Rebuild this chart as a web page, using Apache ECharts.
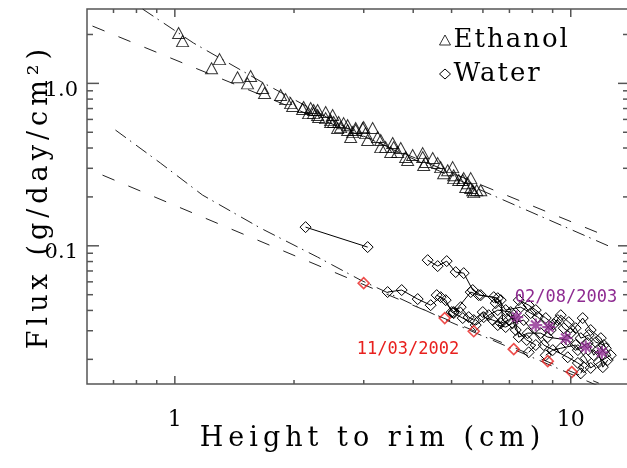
<!DOCTYPE html>
<html>
<head>
<meta charset="utf-8">
<script src="https://cdn.jsdelivr.net/npm/echarts@6/dist/echarts.min.js"></script>
<style>html,body{margin:0;padding:0;background:#fff;}#c{width:627px;height:468px;}</style>
</head>
<body>
<div id="c"></div>
<script>
// ---- axis ranges and ticks ----
const xRange = [0.6, 13.95];
const yRange = [0.0141, 2.87];
const xMajorTicks = [1, 10];
const xMinorTicks = [0.7, 0.8, 0.9, 2, 3, 4, 5, 6, 7, 8, 9];
const yMajorTicks = [0.1, 1];
const yMinorTicks = [0.02, 0.03, 0.04, 0.05, 0.06, 0.07, 0.08, 0.09, 0.2, 0.3, 0.4, 0.5, 0.6, 0.7, 0.8, 0.9, 2];

// ---- Ethanol measurements [height cm, flux] ----
const ethanol = [
 [1.022,2.04],[1.046,1.82],[1.238,1.24],[1.297,1.41],[1.440,1.09],[1.526,1.00],[1.554,1.11],
 [1.666,0.936],[1.685,0.872],[1.850,0.847],[1.905,0.800],[1.961,0.756],[1.984,0.725],
 [2.102,0.695],[2.115,0.715],[2.177,0.656],[2.203,0.705],[2.241,0.685],[2.241,0.656],
 [2.294,0.638],[2.294,0.685],[2.308,0.620],[2.404,0.666],[2.404,0.611],[2.475,0.594],
 [2.475,0.578],[2.503,0.638],[2.518,0.578],[2.577,0.531],[2.592,0.578],[2.623,0.538],
 [2.669,0.569],[2.732,0.553],[2.732,0.516],[2.780,0.467],[2.813,0.501],[2.862,0.531],
 [2.862,0.516],[2.981,0.531],[2.999,0.538],[3.033,0.494],[3.069,0.448],[3.159,0.531],
 [3.253,0.467],[3.311,0.448],[3.311,0.405],[3.408,0.405],[3.509,0.378],[3.550,0.429],
 [3.571,0.405],[3.655,0.378],[3.720,0.400],[3.828,0.352],[3.873,0.337],[3.987,0.362],
 [4.227,0.372],[4.227,0.352],[4.251,0.314],[4.301,0.328],[4.480,0.347],[4.612,0.323],
 [4.693,0.305],[4.775,0.280],[4.888,0.292],[5.032,0.305],[5.061,0.272],[5.061,0.261],
 [5.212,0.254],[5.335,0.254],[5.366,0.261],[5.429,0.230],[5.492,0.243],[5.589,0.261],
 [5.589,0.227],[5.654,0.220],[5.688,0.214],[5.788,0.220],[5.925,0.220]
];

// ---- Water measurement runs [height cm, flux] ----
const waterRun1 = [[2.139,0.1303],[3.069,0.0982]];
const waterRun2 = [
 [4.351,0.0816],[4.612,0.0750],[4.860,0.0805],[5.121,0.0689],[5.366,0.0679],[5.654,0.0534],
 [5.925,0.0497],[6.540,0.0476],[6.849,0.0402],[7.475,0.0419],[7.924,0.0385],[8.253,0.0364],
 [8.903,0.0303],[9.272,0.0349],[9.601,0.0311],[10.0,0.0290],[10.72,0.0359],[11.23,0.0303],
 [11.91,0.0270],[12.26,0.0234]
];
const waterRun3 = [
 [3.447,0.0519],[3.741,0.0534],[4.106,0.0470],[4.428,0.0431],[4.693,0.0483],[5.061,0.0391],
 [5.273,0.0419],[5.524,0.0364],[5.688,0.0349],[5.994,0.0391],[6.028,0.0364],[6.352,0.0349],
 [6.655,0.0334],[6.970,0.0349],[7.178,0.0374],[7.389,0.0274],[7.786,0.0290],[8.398,0.0290],
 [8.748,0.0274],[9.827,0.0263],[10.42,0.0228],[11.04,0.0252],[11.43,0.0212],[11.70,0.0228],
 [12.05,0.0179],[12.40,0.0198]
];
const waterRun4 = [
 [5.061,0.0385],[5.589,0.0519],[5.855,0.0497],[6.389,0.0483],[6.464,0.0444],[6.655,0.0463],
 [6.733,0.0349],[6.540,0.0325],[6.849,0.0316],[7.134,0.0334],[7.607,0.0349],[8.547,0.0245],
 [9.827,0.0206],[10.42,0.0190],[10.79,0.0179],[10.60,0.0164]
];
const waterRun5 = [
 [7.389,0.0463],[7.830,0.0431],[8.158,0.0402],[8.647,0.0359],[9.057,0.0329],[9.435,0.0374],
 [9.884,0.0339],[10.29,0.0311],[10.60,0.0270],[11.10,0.0282],[11.57,0.0255],[12.12,0.0245],
 [12.62,0.0212],[11.77,0.0192],[11.23,0.0177],[10.91,0.0203],[10.29,0.0245],[9.435,0.0234],
 [9.005,0.0228],[8.647,0.0212]
];
const waterRun6 = [
 [4.585,0.0497],[4.832,0.0463],[5.004,0.0391],[5.335,0.0359],[5.754,0.0325],[6.206,0.0374],
 [6.540,0.0402],[7.052,0.0391],[7.262,0.0303],[7.741,0.0263],[8.158,0.0245],[7.830,0.0221]
];
const water20021103 = [[2.999,0.0589],[4.805,0.0359],[5.688,0.0298],[7.178,0.0231],[8.748,0.0195],[10.06,0.0167]];
const water20030802 = [[7.302,0.0364],[8.158,0.0325],[8.799,0.0316],[9.714,0.0270],[10.91,0.0238],[11.98,0.0221]];

// ---- fitted curves ----
const ethanolFitDashed = [[0.6195,2.253],[12.48,0.1131]];
const ethanolFitDashDot = [[0.829,2.868],[1.115,1.771],[1.676,1.004],[2.78,0.516],[5.925,0.2203],[12.48,0.0996]];
const waterFitDashed = [[0.6566,0.2724],[11.77,0.01427]];
const waterFitDashDot = [[0.708,0.516],[0.920,0.323],[1.175,0.2052],[1.646,0.1285],[2.294,0.0852],[2.946,0.0615],[4.973,0.0339],[11.77,0.01368]];

const dateLabels = ['02/08/2003', '11/03/2002'];
const legendNames = ['Ethanol', 'Water'];

// Wider letter spacing for the large serif titles (the original uses a widely spaced vector font)
(function () {
  const proto = CanvasRenderingContext2D.prototype;
  if (!('letterSpacing' in proto)) return;
  const orig = proto.fillText;
  proto.fillText = function (t, x, y, mw) {
    const f = this.font || '';
    const m = /(\d+(?:\.\d+)?)px/.exec(f);
    const sz = m ? parseFloat(m[1]) : 0;
    const prev = this.letterSpacing;
    let ls = '0px';
    if (f.indexOf('Serif') >= 0) {
      if (sz >= 27) ls = '5px';
      else if (sz >= 26) ls = '2px';
    }
    this.letterSpacing = ls;
    const r = orig.call(this, t, x, y, mw);
    this.letterSpacing = prev;
    return r;
  };
})();

// ---- build tick data for custom renderer ----
const tickData = [];
xMinorTicks.forEach(v => tickData.push([v, 1, 0]));
xMajorTicks.forEach(v => tickData.push([v, 1, 1]));
yMinorTicks.forEach(v => tickData.push([1, v, 2]));
yMajorTicks.forEach(v => tickData.push([1, v, 3]));

const AX = '#555';
const serif = 'DejaVu Serif';
const hollow = {color: 'rgba(0,0,0,0)', borderColor: '#000', borderWidth: 1};
const PURPLE = '#8e2b91';
const RED = '#e8201e';

function waterRun(data) {
  return {
    name: 'Water', type: 'line', data: data, symbol: 'diamond', symbolSize: [11, 11],
    itemStyle: hollow, lineStyle: {color: '#000', width: 1}, showSymbol: true,
    animation: false, z: 3
  };
}
function fit(data, dash) {
  return {
    name: 'fit', type: 'line', data: data, symbol: 'none', smooth: false,
    lineStyle: {color: '#222', width: 1, type: dash}, animation: false, z: 2, silent: true
  };
}

const chart = echarts.init(document.getElementById('c'), null, {renderer: 'canvas'});
chart.setOption({
  animation: false,
  backgroundColor: '#fff',
  grid: {left: 87, top: 9, right: -1, bottom: 84, show: true, borderColor: AX, borderWidth: 1.5,
         containLabel: false, outerBoundsMode: 'none'},
  legend: {
    orient: 'vertical', left: 434, top: 22, itemGap: 8, itemWidth: 11, itemHeight: 10,
    data: [{name: legendNames[0], icon: 'triangle'}, {name: legendNames[1], icon: 'diamond'}],
    itemStyle: hollow,
    textStyle: {fontFamily: serif, fontSize: 26, color: '#000', padding: [0,0,0,-2]},
    selectedMode: false
  },
  xAxis: {
    type: 'log', logBase: 10, min: xRange[0], max: xRange[1],
    name: 'Height to rim (cm)', nameLocation: 'middle', nameGap: 41, nameMoveOverlap: false,
    nameTextStyle: {fontFamily: serif, fontSize: 27, color: '#000', padding: [0,0,0,30]},
    axisLine: {show: false}, axisTick: {show: false}, splitLine: {show: false}, minorTick: {show: false},
    axisLabel: {fontFamily: serif, fontSize: 22, color: '#000', margin: 25,
                showMinLabel: false, showMaxLabel: false,
                formatter: v => (Math.abs(v - 1) < 1e-9 ? '1' : Math.abs(v - 10) < 1e-6 ? '10' : '')}
  },
  yAxis: {
    type: 'log', logBase: 10, min: yRange[0], max: yRange[1],
    name: 'Flux (g/day/cm²)', nameLocation: 'middle', nameGap: 34, nameMoveOverlap: false,
    nameTextStyle: {fontFamily: serif, fontSize: 27, color: '#000'},
    axisLine: {show: false}, axisTick: {show: false}, splitLine: {show: false}, minorTick: {show: false},
    axisLabel: {fontFamily: serif, fontSize: 21, color: '#000', margin: 9,
                verticalAlign: 'top', lineHeight: 14,
                showMinLabel: false, showMaxLabel: false,
                formatter: v => (Math.abs(v - 1) < 1e-9 ? '1.0' : Math.abs(v - 0.1) < 1e-9 ? '0.1' : '')}
  },
  graphic: [
    {type: 'text', x: 566, y: 298, style: {text: dateLabels[0], fill: PURPLE, font: '17px "DejaVu Sans Mono"', align: 'center', verticalAlign: 'middle'}, z: 10},
    {type: 'text', x: 408, y: 350, style: {text: dateLabels[1], fill: RED, font: '17px "DejaVu Sans Mono"', align: 'center', verticalAlign: 'middle'}, z: 10}
  ],
  series: [
    {
      name: 'ticks', type: 'custom', data: tickData, clip: false, silent: true, z: 10,
      renderItem: function (params, api) {
        const cs = params.coordSys;
        const kind = api.value(2);
        const st = {stroke: AX, lineWidth: 1.5};
        if (kind < 2) {
          const px = api.coord([api.value(0), 1])[0];
          const lb = kind === 1 ? 8 : 4;
          const b = cs.y + cs.height, t = cs.y;
          return {type: 'group', children: [
            {type: 'line', shape: {x1: px, y1: b, x2: px, y2: b - lb}, style: st},
            {type: 'line', shape: {x1: px, y1: t, x2: px, y2: t + lb}, style: st}
          ]};
        } else {
          const py = api.coord([1, api.value(1)])[1];
          const ll = kind === 3 ? 12 : 6;
          const rl = kind === 3 ? 10 : 5;
          const l = cs.x, r = cs.x + cs.width;
          return {type: 'group', children: [
            {type: 'line', shape: {x1: l, y1: py, x2: l + ll, y2: py}, style: st},
            {type: 'line', shape: {x1: r, y1: py, x2: r - rl, y2: py}, style: st}
          ]};
        }
      }
    },
    fit(ethanolFitDashed, [13, 15]),
    fit(ethanolFitDashDot, [13, 5, 1.5, 6]),
    fit(waterFitDashed, [13, 15]),
    fit(waterFitDashDot, [13, 5, 1.5, 6]),
    {
      name: 'Ethanol', type: 'scatter', data: ethanol, symbol: 'triangle', symbolSize: [12, 11],
      itemStyle: hollow, z: 4
    },
    waterRun(waterRun1),
    waterRun(waterRun2),
    waterRun(waterRun3),
    waterRun(waterRun4),
    waterRun(waterRun5),
    waterRun(waterRun6),
    {
      name: '11/03/2002', type: 'scatter', data: water20021103, symbol: 'diamond', symbolSize: [11, 11],
      itemStyle: {color: 'rgba(0,0,0,0)', borderColor: RED, borderWidth: 1.6}, z: 5
    },
    {
      name: '02/08/2003', type: 'scatter', data: water20030802,
      symbol: 'path://M5 0L5 10M0 5L10 5M1.4 1.4L8.6 8.6M1.4 8.6L8.6 1.4', symbolSize: [13, 13],
      itemStyle: {color: 'rgba(0,0,0,0)', borderColor: PURPLE, borderWidth: 2.2}, z: 6
    }
  ]
});
</script>
</body>
</html>
